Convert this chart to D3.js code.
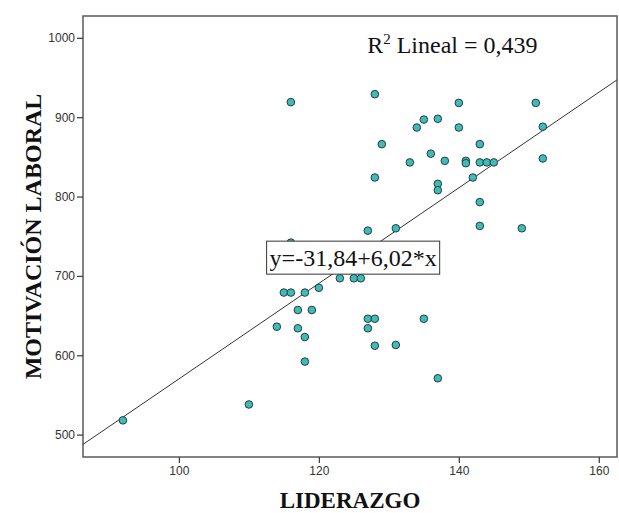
<!DOCTYPE html>
<html>
<head>
<meta charset="utf-8">
<script src="https://cdn.jsdelivr.net/npm/d3@7"></script>
<style>
  body { margin: 0; background: #fff; }
  svg { display: block; }
</style>
</head>
<body>
<div id="chart"></div>
<script>
// LIDERAZGO (x) vs MOTIVACION LABORAL (y)
var liderazgo = [92, 110, 116, 114, 115, 116, 116, 117, 117, 118, 118, 118, 119, 120,
  123, 125, 126, 127, 127, 128, 127, 128, 131, 131, 135, 137, 143, 143, 149,
  128, 129, 128, 133, 134, 135, 137, 136, 138, 140, 140, 141, 141, 143, 143,
  144, 145, 142, 137, 137, 151, 152, 152];
var motivacion = [518, 538, 919, 636, 679, 679, 742, 657, 634, 679, 623, 592, 657, 685,
  697, 697, 697, 757, 646, 646, 634, 612, 613, 760, 646, 571, 793, 763, 760,
  929, 866, 824, 843, 887, 897, 898, 854, 845, 918, 887, 845, 842, 866, 843,
  843, 843, 824, 816, 808, 918, 888, 848];

var xTicks = [100, 120, 140, 160];
var yTicks = [500, 600, 700, 800, 900, 1000];

// fit line reported by SPSS
var intercept = -31.84, slope = 6.02;
var r2 = "0,439";

var width = 619, height = 513;
var margin = {top: 16, right: 2, bottom: 56, left: 83};

var svg = d3.select("#chart").append("svg")
  .attr("width", width)
  .attr("height", height);

var x = d3.scaleLinear()
  .domain([86.3, 162.6])
  .range([margin.left, width - margin.right]);

var y = d3.scaleLinear()
  .domain([471.8, 1027.5])
  .range([height - margin.bottom, margin.top]);

var plot = svg.append("g");

// frame
plot.append("rect")
  .attr("x", x.range()[0])
  .attr("y", y.range()[1])
  .attr("width", x.range()[1] - x.range()[0])
  .attr("height", y.range()[0] - y.range()[1])
  .attr("fill", "none")
  .attr("stroke", "#5a5a5a")
  .attr("stroke-width", 1.5);

// axes
svg.append("g")
  .attr("class", "axis")
  .attr("transform", "translate(0," + y.range()[0] + ")")
  .call(d3.axisBottom(x).tickValues(xTicks).tickFormat(d3.format("d"))
    .tickSize(6).tickSizeOuter(0).tickPadding(3));

svg.append("g")
  .attr("class", "axis")
  .attr("transform", "translate(" + x.range()[0] + ",0)")
  .call(d3.axisLeft(y).tickValues(yTicks).tickFormat(d3.format("d"))
    .tickSize(6).tickSizeOuter(0).tickPadding(2));

svg.selectAll(".axis .domain").remove();
svg.selectAll(".axis line").attr("stroke", "#444").attr("stroke-width", 1.3);
svg.selectAll(".axis text")
  .style("font-family", "'Liberation Sans', Arial, sans-serif")
  .style("font-size", "12px")
  .attr("fill", "#333");

// regression line clipped to the frame
svg.append("clipPath").attr("id", "clip")
  .append("rect")
  .attr("x", x.range()[0])
  .attr("y", y.range()[1])
  .attr("width", x.range()[1] - x.range()[0])
  .attr("height", y.range()[0] - y.range()[1]);

var xd = x.domain();
plot.append("line")
  .attr("clip-path", "url(#clip)")
  .attr("x1", x(xd[0]))
  .attr("y1", y(intercept + slope * xd[0]))
  .attr("x2", x(xd[1]))
  .attr("y2", y(intercept + slope * xd[1]))
  .attr("stroke", "#333")
  .attr("stroke-width", 1);

// points
plot.selectAll("circle.pt")
  .data(d3.range(liderazgo.length))
  .enter()
  .append("circle")
  .attr("class", "pt")
  .attr("cx", function(i) { return x(liderazgo[i]); })
  .attr("cy", function(i) { return y(motivacion[i]); })
  .attr("r", 3.8)
  .attr("fill", "#3cbcba")
  .attr("stroke", "#2b3b3b")
  .attr("stroke-width", 1);

// equation label box
var eqX = 124.9, eqY = 723;
var eq = plot.append("g");
var eqText = eq.append("text")
  .attr("x", x(eqX))
  .attr("y", y(eqY) + 8)
  .attr("text-anchor", "middle")
  .style("font-family", "'Liberation Serif', 'Times New Roman', serif")
  .style("font-size", "24px")
  .attr("fill", "#111")
  .text("y=" + String(intercept).replace(".", ",") + "+" + String(slope).replace(".", ",") + "*x");
var bb = eqText.node().getBBox();
eq.insert("rect", "text")
  .attr("x", bb.x - 3)
  .attr("y", y(eqY) - 16.5)
  .attr("width", bb.width + 6)
  .attr("height", 33)
  .attr("fill", "#fff")
  .attr("stroke", "#333")
  .attr("stroke-width", 1);

// R2 label
var r2Text = plot.append("text")
  .attr("x", x(126.9))
  .attr("y", y(980.5))
  .style("font-family", "'Liberation Serif', 'Times New Roman', serif")
  .style("font-size", "24px")
  .attr("fill", "#111");
r2Text.append("tspan").text("R");
r2Text.append("tspan").attr("dy", -9).style("font-size", "15px").text("2");
r2Text.append("tspan").attr("dy", 9).text(" Lineal = " + r2);

// axis titles
svg.append("text")
  .attr("transform", "translate(41," + ((y.range()[0] + y.range()[1]) / 2) + ") rotate(-90)")
  .attr("text-anchor", "middle")
  .style("font-family", "'Liberation Serif', 'Times New Roman', serif")
  .style("font-weight", "bold")
  .style("font-size", "24px")
  .attr("fill", "#111")
  .text("MOTIVACIÓN LABORAL");

svg.append("text")
  .attr("x", (x.range()[0] + x.range()[1]) / 2)
  .attr("y", 508)
  .attr("text-anchor", "middle")
  .style("font-family", "'Liberation Serif', 'Times New Roman', serif")
  .style("font-weight", "bold")
  .style("font-size", "23px")
  .attr("fill", "#111")
  .text("LIDERAZGO");
</script>
</body>
</html>
